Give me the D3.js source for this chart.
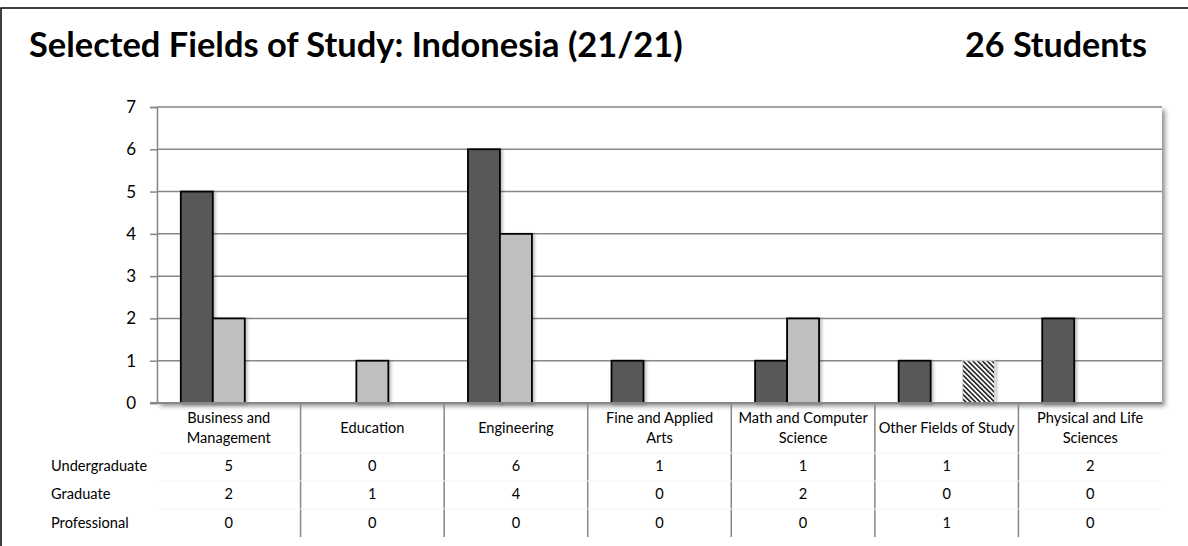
<!DOCTYPE html>
<html><head><meta charset="utf-8">
<script src="https://cdn.jsdelivr.net/npm/d3@7/dist/d3.min.js"></script>
<style>
html,body{margin:0;padding:0;background:#fff;}
svg{display:block;font-family:Lato, "Open Sans", sans-serif;}
</style></head>
<body>
<svg id="c" width="1188" height="546"></svg>
<script>
const titleText = "Selected Fields of Study: Indonesia (21/21)";
const totalText = "26 Students";
const categories = [
  ["Business and","Management"],
  ["Education"],
  ["Engineering"],
  ["Fine and Applied","Arts"],
  ["Math and Computer","Science"],
  ["Other Fields of Study"],
  ["Physical and Life","Sciences"]
];
const seriesNames = ["Undergraduate","Graduate","Professional"];
const undergraduate = [5,0,6,1,1,1,2];
const graduate      = [2,1,4,0,2,0,0];
const professional  = [0,0,0,0,0,1,0];
const yTicks = [0,1,2,3,4,5,6,7];

const values = [undergraduate, graduate, professional];
const catKeys = categories.map(c => c.join(" "));

const svg = d3.select("#c");
const defs = svg.append("defs");
const sh = defs.append("filter").attr("id","shadow").attr("x","-5%").attr("y","-5%").attr("width","115%").attr("height","120%");
sh.append("feDropShadow").attr("dx",3).attr("dy",3).attr("stdDeviation",2.5).attr("flood-color","#000").attr("flood-opacity",0.45);
const bsh = defs.append("filter").attr("id","bshadow").attr("x","-20%").attr("y","-5%").attr("width","150%").attr("height","115%");
bsh.append("feDropShadow").attr("dx",2).attr("dy",1).attr("stdDeviation",1.5).attr("flood-color","#000").attr("flood-opacity",0.25);
const pat = defs.append("pattern").attr("id","hatch").attr("patternUnits","userSpaceOnUse")
  .attr("width",3.4).attr("height",10).attr("patternTransform","rotate(-45)");
pat.append("rect").attr("width",3.4).attr("height",10).attr("fill","#fff");
pat.append("rect").attr("width",1.6).attr("height",10).attr("fill","#222");

// outer frame
svg.append("rect").attr("x",1).attr("y",8).attr("width",1400).attr("height",800)
  .attr("fill","none").attr("stroke","#000").attr("stroke-width",1.5);

// titles
function fit(t, w){ const n=t.node(); const cur=n.getComputedTextLength(); const fs=parseFloat(t.attr("font-size")); t.attr("font-size", fs*w/cur); }
const tt = svg.append("text").attr("x",29).attr("y",57).attr("font-size",28).attr("font-weight","bold").attr("fill","#000").text(titleText);
fit(tt, 654);
const t2 = svg.append("text").attr("x",1147).attr("y",57).attr("text-anchor","end").attr("font-size",28).attr("font-weight","bold").attr("fill","#000").text(totalText);
fit(t2, 182);

const L=157, R=1162, T=107, B=403;
const x = d3.scaleBand().domain(catKeys).range([L,R]).paddingInner(0).paddingOuter(0);
const xs = d3.scaleBand().domain(seriesNames).range([0,x.bandwidth()]).paddingInner(0).paddingOuter(0.744);
const y = d3.scaleLinear().domain([0,7]).range([B,T]);

// plot background with shadow
svg.append("rect").attr("x",L).attr("y",T).attr("width",R-L).attr("height",B-T)
  .attr("fill","#fff").attr("filter","url(#shadow)");

// gridlines
svg.append("g").selectAll("line").data(yTicks.filter(d=>d>0)).join("line")
  .attr("x1",L).attr("x2",R).attr("y1",d=>y(d)).attr("y2",d=>y(d))
  .attr("stroke","#878787").attr("stroke-width",1.5);

// y axis
const yAxis = svg.append("g").attr("transform",`translate(${L},0)`)
  .call(d3.axisLeft(y).tickValues(yTicks).tickFormat(d3.format("d")).tickSize(7).tickPadding(14));
yAxis.select(".domain").attr("stroke","#878787").attr("stroke-width",1.5);
yAxis.selectAll(".tick line").attr("stroke","#878787").attr("stroke-width",1.5);
yAxis.selectAll(".tick text").attr("font-size",17).attr("fill","#000").attr("font-family","Lato, sans-serif");

// bars
const fills = ["#595959","#bfbfbf","url(#hatch)"];
const strokes = ["#000","#000","#d8d8d8"];
const barData = [];
values.forEach((arr,si)=>arr.forEach((v,ci)=>{ if(v>0) barData.push({s:si,c:ci,v}); }));
svg.append("g").selectAll("rect").data(barData).join("rect")
  .attr("x",d=>x(catKeys[d.c])+xs(seriesNames[d.s]))
  .attr("y",d=>y(d.v))
  .attr("width",xs.bandwidth())
  .attr("height",d=>B-y(d.v))
  .attr("fill",d=>fills[d.s])
  .attr("stroke",d=>strokes[d.s])
  .attr("stroke-width",d=>d.s===2?1:1.8)
  .attr("filter","url(#bshadow)");

// x axis line
svg.append("line").attr("x1",150).attr("x2",R).attr("y1",B).attr("y2",B)
  .attr("stroke","#878787").attr("stroke-width",2);

// data table
const tb = svg.append("g");
const bounds = catKeys.slice(1).map(k=>x(k));
tb.selectAll("line.v").data(bounds).join("line").attr("class","v")
  .attr("x1",d=>d).attr("x2",d=>d).attr("y1",B).attr("y2",537)
  .attr("stroke","#878787").attr("stroke-width",1.5);
tb.selectAll("line.h").data([453,481,509]).join("line").attr("class","h")
  .attr("x1",L).attr("x2",R).attr("y1",d=>d).attr("y2",d=>d)
  .attr("stroke","#f4f4f4").attr("stroke-width",1);

const FS = 14.6;
const catG = tb.selectAll("text.cat").data(categories).join("text").attr("class","cat")
  .attr("text-anchor","middle").attr("font-size",FS).attr("fill","#000")
  .attr("x",(d,i)=>x(catKeys[i])+x.bandwidth()/2);
catG.each(function(d){
  const t=d3.select(this);
  const y0 = d.length===2 ? 423 : 433;
  d.forEach((line,j)=>t.append("tspan").attr("x",t.attr("x")).attr("y",y0+j*20).text(line));
});

const rowY = [471,499,528];
seriesNames.forEach((name,si)=>{
  tb.append("text").attr("x",51).attr("y",rowY[si]).attr("font-size",FS).attr("fill","#000").text(name);
  tb.selectAll(null).data(values[si]).join("text")
    .attr("x",(d,i)=>x(catKeys[i])+x.bandwidth()/2).attr("y",rowY[si])
    .attr("text-anchor","middle").attr("font-size",FS).attr("fill","#000").text(d=>d);
});
</script>
</body></html>
